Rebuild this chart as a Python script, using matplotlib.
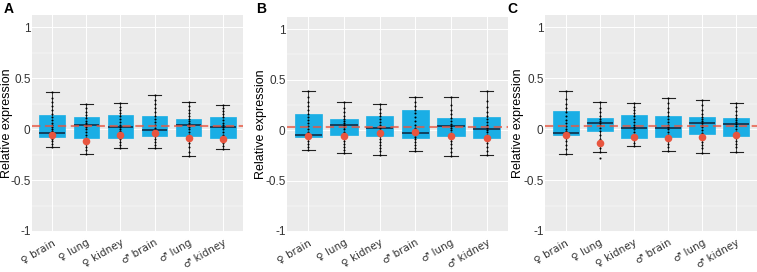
import matplotlib
matplotlib.use("Agg")
import matplotlib.pyplot as plt

plt.rcParams['font.family'] = ['Liberation Sans', 'DejaVu Sans']

categories = ["\u2640 brain", "\u2640 lung", "\u2640 kidney", "\u2642 brain", "\u2642 lung", "\u2642 kidney"]
panel_labels = ["A", "B", "C"]
ref_line = 0.03

# box stats per panel: (whisker low, q1, median, q3, whisker high)
boxes_A = [(-0.18, -0.075, -0.036, 0.134, 0.36), (-0.24, -0.09, 0.04, 0.12, 0.25),
           (-0.19, -0.09, 0.02, 0.134, 0.26), (-0.19, -0.07, -0.01, 0.127, 0.33),
           (-0.26, -0.065, 0.04, 0.095, 0.27), (-0.20, -0.085, 0.02, 0.12, 0.24)]
boxes_B = [(-0.20, -0.07, -0.046, 0.16, 0.39), (-0.23, -0.05, 0.053, 0.11, 0.28),
           (-0.244, -0.06, 0.02, 0.136, 0.258), (-0.21, -0.076, -0.03, 0.198, 0.327),
           (-0.26, -0.06, 0.037, 0.122, 0.33), (-0.25, -0.076, 0.013, 0.129, 0.39)]
boxes_C = [(-0.24, -0.053, -0.037, 0.18, 0.37), (-0.22, -0.02, 0.06, 0.113, 0.27),
           (-0.167, -0.087, 0.01, 0.137, 0.257), (-0.213, -0.073, 0.01, 0.127, 0.307),
           (-0.23, -0.047, 0.06, 0.123, 0.29), (-0.22, -0.07, 0.047, 0.113, 0.257)]

# group means (red dots)
means_A = [-0.062, -0.12, -0.06, -0.04, -0.085, -0.10]
means_B = [-0.06, -0.06, -0.03, -0.023, -0.056, -0.08]
means_C = [-0.06, -0.137, -0.073, -0.083, -0.08, -0.053]

# individual values (small black dots)
points_A = [
    [-0.18, -0.15, -0.12, -0.10, -0.08, -0.06, -0.04, -0.02, 0.0, 0.02, 0.04, 0.06, 0.09, 0.12, 0.15, 0.19, 0.23, 0.27, 0.31, 0.36],
    [-0.24, -0.21, -0.18, -0.15, -0.12, -0.09, -0.06, -0.03, 0.0, 0.02, 0.04, 0.06, 0.08, 0.11, 0.14, 0.17, 0.21, 0.25],
    [-0.19, -0.16, -0.13, -0.10, -0.08, -0.05, -0.02, 0.0, 0.02, 0.04, 0.07, 0.10, 0.13, 0.16, 0.19, 0.22, 0.26],
    [-0.19, -0.16, -0.13, -0.10, -0.07, -0.05, -0.03, -0.01, 0.01, 0.04, 0.07, 0.10, 0.13, 0.17, 0.21, 0.25, 0.29, 0.33],
    [-0.26, -0.22, -0.18, -0.14, -0.11, -0.08, -0.06, -0.03, 0.0, 0.02, 0.04, 0.06, 0.08, 0.10, 0.13, 0.16, 0.19, 0.23, 0.27],
    [-0.20, -0.17, -0.14, -0.11, -0.09, -0.06, -0.03, 0.0, 0.02, 0.04, 0.06, 0.09, 0.12, 0.15, 0.18, 0.21, 0.24],
]
points_B = [
    [-0.20, -0.17, -0.14, -0.11, -0.08, -0.06, -0.04, -0.02, 0.01, 0.04, 0.07, 0.10, 0.13, 0.16, 0.20, 0.24, 0.28, 0.33, 0.39],
    [-0.23, -0.20, -0.17, -0.14, -0.11, -0.08, -0.05, -0.02, 0.01, 0.03, 0.05, 0.07, 0.09, 0.11, 0.14, 0.18, 0.22, 0.28],
    [-0.244, -0.21, -0.18, -0.15, -0.12, -0.09, -0.06, -0.03, 0.0, 0.02, 0.05, 0.08, 0.11, 0.14, 0.17, 0.21, 0.258],
    [-0.21, -0.18, -0.15, -0.12, -0.09, -0.07, -0.05, -0.03, -0.01, 0.02, 0.05, 0.09, 0.13, 0.17, 0.20, 0.24, 0.28, 0.327],
    [-0.26, -0.22, -0.18, -0.14, -0.11, -0.08, -0.06, -0.03, 0.0, 0.02, 0.04, 0.06, 0.09, 0.12, 0.16, 0.20, 0.25, 0.33],
    [-0.25, -0.21, -0.17, -0.13, -0.10, -0.08, -0.05, -0.02, 0.0, 0.02, 0.05, 0.08, 0.11, 0.14, 0.18, 0.23, 0.29, 0.39],
]
points_C = [
    [-0.24, -0.20, -0.16, -0.12, -0.09, -0.06, -0.04, -0.02, 0.0, 0.03, 0.06, 0.09, 0.13, 0.17, 0.21, 0.25, 0.30, 0.37],
    [-0.287, -0.22, -0.19, -0.16, -0.13, -0.10, -0.06, -0.02, 0.01, 0.04, 0.06, 0.08, 0.10, 0.13, 0.17, 0.21, 0.27],
    [-0.167, -0.14, -0.11, -0.09, -0.06, -0.03, 0.0, 0.02, 0.04, 0.07, 0.10, 0.13, 0.16, 0.19, 0.22, 0.257],
    [-0.213, -0.18, -0.15, -0.12, -0.09, -0.06, -0.03, 0.0, 0.02, 0.04, 0.07, 0.10, 0.13, 0.17, 0.21, 0.26, 0.307],
    [-0.23, -0.19, -0.16, -0.13, -0.10, -0.07, -0.04, -0.01, 0.02, 0.04, 0.06, 0.08, 0.10, 0.12, 0.15, 0.19, 0.24, 0.29],
    [-0.22, -0.18, -0.15, -0.12, -0.09, -0.06, -0.03, 0.0, 0.03, 0.05, 0.07, 0.09, 0.11, 0.14, 0.18, 0.22, 0.257],
]

panels = [(boxes_A, means_A, points_A), (boxes_B, means_B, points_B), (boxes_C, means_C, points_C)]

W, H = 757, 272
# axes boxes in pixels: left, right, top, bottom
px_boxes = [(32, 243, 15, 232), (287, 508, 17, 232), (545, 757, 15, 232)]
ylabel_x = [7, 261, 518]
letter_x = [4, 256, 507]

BOX_COLOR = "#1AAEE5"
RED = "#E8553F"

fig = plt.figure(figsize=(W / 100, H / 100), dpi=100)

for i, (boxes, means, points) in enumerate(panels):
    l, r, t, b = px_boxes[i]
    ax = fig.add_axes([l / W, 1 - b / H, (r - l) / W, (b - t) / H])
    ax.set_facecolor("#EBEBEB")
    for s in ax.spines.values():
        s.set_visible(False)

    x = list(range(1, len(categories) + 1))
    stats = [dict(whislo=v[0], q1=v[1], med=v[2], q3=v[3], whishi=v[4], fliers=[]) for v in boxes]
    ax.bxp(stats, positions=x, widths=0.76, patch_artist=True, showfliers=False,
           boxprops=dict(facecolor=BOX_COLOR, edgecolor=BOX_COLOR, linewidth=0.5),
           medianprops=dict(color="#10233A", linewidth=1.1),
           whiskerprops=dict(color="#222222", linewidth=0.6),
           capprops=dict(color="#222222", linewidth=0.8), capwidths=0.38,
           zorder=2)

    for xi, vals in zip(x, points):
        ax.scatter([xi] * len(vals), vals, s=2.2, color="black", zorder=3, linewidths=0)

    ax.axhline(ref_line, color=RED, linestyle=(0, (4, 2.2)), linewidth=1.5, alpha=0.75, zorder=4)
    ax.scatter(x, means, s=30, color=RED, zorder=5, linewidths=0)

    ax.set_xlim(0.4, 6.6)
    ax.set_ylim(-1.01, 1.12)
    ax.set_yticks([-1, -0.5, 0, 0.5, 1])
    ax.set_yticklabels(["-1", "-0.5", "0", "0.5", "1"])
    ax.set_yticks([-0.75, -0.25, 0.25, 0.75], minor=True)
    ax.set_xticks(x)
    ax.set_xticklabels(categories, rotation=30, ha="right", rotation_mode="anchor",
                       family=["DejaVu Sans"], fontsize=7.5)
    ax.grid(True, which="major", color="white", linewidth=0.7, zorder=0)
    ax.grid(True, which="minor", axis="y", color="white", linewidth=0.35, zorder=0)
    ax.set_axisbelow(True)
    ax.tick_params(axis="y", which="major", length=0, labelsize=8.5,
                   labelcolor="#333333", pad=1)
    ax.tick_params(axis="x", which="major", length=0, labelcolor="#333333", pad=4)
    ax.tick_params(axis="both", which="minor", length=0)
    ax.set_ylabel("Relative expression", fontsize=9, va="center")
    ax.yaxis.set_label_coords((ylabel_x[i] - l) / (r - l), 0.5)

    fig.text(letter_x[i] / W, 1 - 2 / H, panel_labels[i], fontsize=10, fontweight="bold",
             va="top", ha="left")

fig.savefig("out.png", dpi=100)
